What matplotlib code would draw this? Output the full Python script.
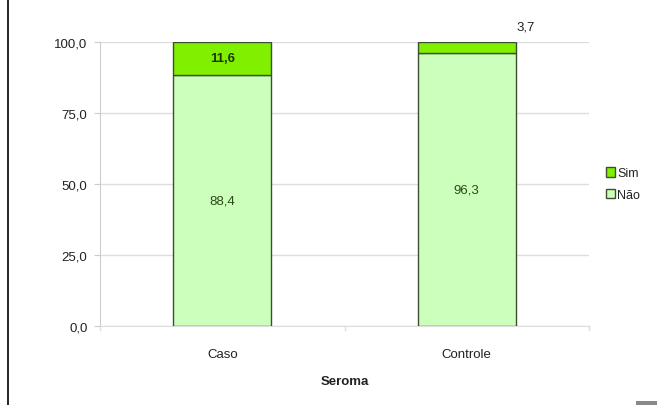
import matplotlib
matplotlib.use("Agg")
import matplotlib.pyplot as plt
from matplotlib.patches import Rectangle
from matplotlib.lines import Line2D

plt.rcParams['font.family'] = ['Liberation Sans', 'DejaVu Sans']

categories = ["Caso", "Controle"]
nao = [88.4, 96.3]
sim = [11.6, 3.7]
nao_labels = ["88,4", "96,3"]
sim_labels = ["11,6", "3,7"]
yticks = [0, 25, 50, 75, 100]
ytick_labels = ["0,0", "25,0", "50,0", "75,0", "100,0"]

SIM_COL = "#80f000"
NAO_COL = "#ccffbb"
EDGE = "#3a4f2f"
TXT = "#222222"
LBL = "#2a4a1a"

fig = plt.figure(figsize=(6.57, 4.06), dpi=100)
ax = fig.add_axes([100/657, 1-327/406, 489/657, 284/406])

x = list(range(len(categories)))
ax.bar(x, nao, width=0.4, color=NAO_COL, edgecolor=EDGE, lw=1.0, label="Não", zorder=3)
ax.bar(x, sim, width=0.4, bottom=nao, color=SIM_COL, edgecolor=EDGE, lw=1.0, label="Sim", zorder=3)

# value labels
for i in x:
    ax.text(i, nao[i] / 2, nao_labels[i], ha="center", va="center", fontsize=9.5, color=LBL, zorder=4)
ax.text(0, nao[0] + sim[0] / 2, sim_labels[0], ha="center", va="center", fontsize=9.5,
        color="#1a3a00", fontweight="bold", zorder=4)
ax.text(1 + 0.24, 103.5, sim_labels[1], ha="center", va="bottom", fontsize=9.5, color=TXT)

ax.set_xlim(-0.5, 1.5)
ax.set_ylim(0, 100)
ax.set_yticks(yticks)
ax.set_yticklabels(ytick_labels, fontsize=9.5, color=TXT)
ax.set_xticks(x)
ax.set_xticklabels(categories, fontsize=9.5, color=TXT)
ax.tick_params(axis="x", length=0, pad=16)
ax.tick_params(axis="y", length=4, color="#cccccc", pad=5)
for t in [-0.5, 0.5, 1.5]:
    ax.plot([t, t], [0, -1.5], color="#dddddd", lw=1, clip_on=False)

ax.grid(axis="y", color="#dddddd", lw=1, zorder=0)
for s in ["top", "right"]:
    ax.spines[s].set_visible(False)
ax.spines["left"].set_color("#cccccc")
ax.spines["bottom"].set_color("#dddddd")
ax.set_xlabel("Seroma", fontsize=9.5, fontweight="bold", color=TXT, labelpad=11)

h, l = ax.get_legend_handles_labels()
leg = ax.legend(h[::-1], l[::-1], loc="center left", bbox_to_anchor=(1.035, 0.5),
                frameon=False, fontsize=9, handlelength=0.75, handleheight=0.75,
                handletextpad=0.15, labelspacing=0.75, borderaxespad=0, borderpad=0)
for t in leg.get_texts():
    t.set_color(TXT)

# frame fragments of the original screenshot
fig.add_artist(Line2D([8/657, 8/657], [0, 1], transform=fig.transFigure, color="black", lw=1.2))
fig.add_artist(Rectangle((636/657, 0), 21/657, 4/406, transform=fig.transFigure,
                         facecolor="#888888", edgecolor="none"))

fig.savefig("out.png", dpi=100)
